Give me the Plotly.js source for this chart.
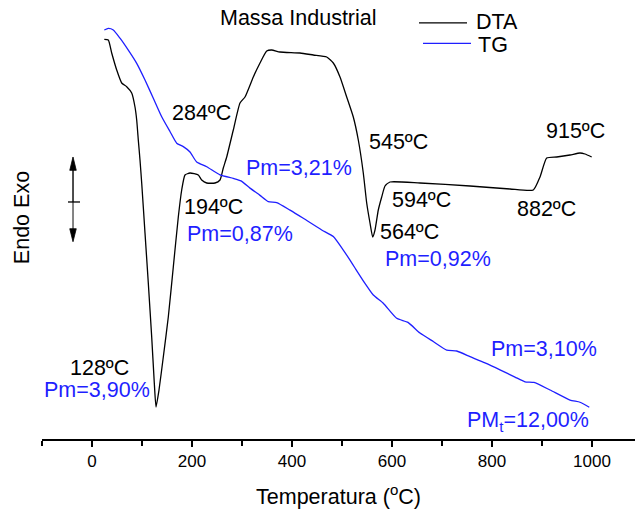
<!DOCTYPE html>
<html>
<head>
<meta charset="utf-8">
<script src="https://cdn.plot.ly/plotly-3.0.1.min.js"></script>
<style>
  html, body { margin: 0; padding: 0; background: #fff; }
  #chart { width: 635px; height: 512px; }
</style>
</head>
<body>
<div id="chart"></div>
<script>
// DTA signal (arbitrary units) against temperature (ºC)
const dtaTemp = [24.6, 32.6, 39.4, 49.4, 59.4, 69.4, 79.4, 86, 89.4, 92.6, 96, 99.4, 106, 112.6, 119.4, 124.6, 128,
  134, 142.6, 152.6, 162.6, 172.6, 179.4, 186, 196, 212.6, 219.4, 229.4, 246, 256, 262.6, 269.4, 282.6, 296, 306,
  322.6, 336, 349.4, 359.4, 376, 416, 442.6, 469.4, 482.6, 496, 509.4, 522.6, 532.6, 542.6, 549.4, 556, 561.4,
  566, 572.6, 579.4, 586, 596, 656, 756, 836, 882.6, 896, 909.4, 929.4, 956, 976, 986, 999.4];
const dtaSignal = [39.87, 39.8, 38.5, 36.8, 35.5, 35.13, 34.5, 33.1, 31.8, 29.8, 27.8, 25.5, 20.5, 15.5, 10.1, 5.5, 3.1,
  4.8, 8.1, 12.1, 17.1, 22.1, 24.8, 26.3, 26.5, 26.3, 25.8, 25.5, 25.5, 25.8, 27.0, 28.1, 30.8, 33.5, 34.1,
  36.1, 37.5, 38.7, 38.8, 38.6, 38.5, 38.3, 38.1, 37.5, 36.1, 34.1, 32.1, 29.8, 26.5, 23.5, 21.5, 20.1,
  20.8, 22.8, 24.1, 25.2, 25.6, 25.5, 25.2, 24.9, 24.8, 26.1, 28.0, 28.1, 28.3, 28.5, 28.4, 28.1];

// TG residual mass (%) against temperature (ºC)
const tgTemp = [24.6, 32.6, 42.6, 56, 72.6, 89.4, 106, 122.6, 139.4, 156, 169.4, 182.6, 196, 209.4, 229.4, 256,
  282.6, 298, 316, 336, 352.6, 369.4, 396, 422.6, 459.4, 482.6, 502.6, 516, 526, 546, 562.6, 582.6, 609.4, 632,
  656, 682.6, 709.4, 729.4, 756, 786, 816, 846, 866, 884, 916, 956, 976, 994.6];
const tgMass = [100.00, 100.05, 100.00, 99.74, 99.36, 98.94, 98.41, 97.83, 97.24, 96.77, 96.40, 96.29, 96.12, 95.80,
  95.65, 95.39, 95.28, 95.20, 94.97, 94.74, 94.54, 94.51, 94.27, 94.01, 93.64, 93.43, 93.00, 92.68, 92.43, 91.94,
  91.57, 91.31, 90.83, 90.70, 90.36, 90.09, 89.82, 89.79, 89.61, 89.41, 89.19, 88.96, 88.81, 88.79, 88.55, 88.23,
  88.16, 88.00];

// Peak temperatures marked on the DTA curve
const peakLabels = ['128ºC', '194ºC', '284ºC', '545ºC', '564ºC', '594ºC', '882ºC', '915ºC'];
// Mass loss stages from the TG curve
const lossLabels = ['Pm=3,90%', 'Pm=0,87%', 'Pm=3,21%', 'Pm=0,92%', 'Pm=3,10%', 'PM<sub>t</sub>=12,00%'];

const xTicks = [0, 200, 400, 600, 800, 1000];

const FONT = 'Liberation Sans, Arial, Helvetica, sans-serif';
const BLUE = '#1f1fff';
const TXT = 21.5;

const traces = [
  {
    x: dtaTemp, y: dtaSignal, name: 'DTA', type: 'scatter', mode: 'lines',
    line: { color: '#000', width: 1.3, shape: 'spline', smoothing: 0.5 },
    showlegend: false
  },
  {
    x: tgTemp, y: tgMass, name: 'TG', type: 'scatter', mode: 'lines', yaxis: 'y2',
    line: { color: BLUE, width: 1.3, shape: 'spline', smoothing: 0.5 },
    showlegend: false
  }
];

// label placement (temperature, DTA units)
const peakPos = [[14, 7.0], [242, 23.1], [218, 32.5], [612, 29.6], [634, 20.6], [658, 23.8], [908, 22.9], [966, 30.7]];
const lossPos = [[10, 4.8], [295, 20.4], [414, 27.0], [692, 17.9], [904, 8.9], [872, 1.7]];

const annotations = [];
peakLabels.forEach((t, i) => annotations.push({
  x: peakPos[i][0], y: peakPos[i][1], xref: 'x', yref: 'y', text: t, showarrow: false,
  xanchor: 'center', yanchor: 'middle',
  font: { family: FONT, size: TXT, color: '#000' }
}));
lossLabels.forEach((t, i) => annotations.push({
  x: lossPos[i][0], y: lossPos[i][1], xref: 'x', yref: 'y', text: t, showarrow: false,
  xanchor: 'center', yanchor: 'middle',
  font: { family: FONT, size: TXT, color: BLUE }
}));

// chart title
annotations.push({
  x: 413, y: 42.0, xref: 'x', yref: 'y', text: 'Massa Industrial', showarrow: false,
  xanchor: 'center', yanchor: 'middle',
  font: { family: FONT, size: TXT, color: '#000' }
});

// legend entries
annotations.push({
  x: 764, y: 0.949, xref: 'x', yref: 'paper', text: 'DTA', showarrow: false,
  xanchor: 'left', yanchor: 'middle',
  font: { family: FONT, size: TXT, color: '#000' }
});
annotations.push({
  x: 768, y: 0.897, xref: 'x', yref: 'paper', text: 'TG', showarrow: false,
  xanchor: 'left', yanchor: 'middle',
  font: { family: FONT, size: TXT, color: '#000' }
});

// y axis caption
annotations.push({
  x: -0.034, y: 0.505, xref: 'paper', yref: 'paper', text: 'Endo Exo', textangle: -90, showarrow: false,
  xanchor: 'center', yanchor: 'middle',
  font: { family: FONT, size: TXT, color: '#000' }
});

// endo/exo double arrow
const ax = 0.0523, hw = 0.0055;
const shapes = [
  { type: 'line', xref: 'paper', yref: 'paper', x0: ax, x1: ax, y0: 0.615, y1: 0.5399,
    line: { color: '#000', width: 1.4 } },
  { type: 'line', xref: 'paper', yref: 'paper', x0: ax, x1: ax, y0: 0.5399, y1: 0.476,
    line: { color: '#666', width: 1.6 } },
  { type: 'path', xref: 'paper', yref: 'paper',
    path: `M ${ax - hw} 0.612 L ${ax} 0.6424 L ${ax + hw} 0.612 Z`,
    fillcolor: '#000', line: { color: '#000', width: 0.8 } },
  { type: 'path', xref: 'paper', yref: 'paper',
    path: `M ${ax - hw} 0.479 L ${ax} 0.4494 L ${ax + hw} 0.479 Z`,
    fillcolor: '#000', line: { color: '#000', width: 0.8 } },
  { type: 'line', xref: 'paper', yref: 'paper', x0: 0.0438, x1: 0.0641, y0: 0.5399, y1: 0.5399,
    line: { color: '#000', width: 1.3 } },
  // legend samples
  { type: 'line', xref: 'x', yref: 'paper', x0: 654, x1: 750, y0: 0.948, y1: 0.948,
    line: { color: '#000', width: 1.3 } },
  { type: 'line', xref: 'x', yref: 'paper', x0: 662, x1: 758, y0: 0.901, y1: 0.901,
    line: { color: BLUE, width: 1.3 } }
];

const layout = {
  width: 635, height: 512,
  margin: { l: 42, r: 0, t: 0, b: 73 },
  paper_bgcolor: '#fff', plot_bgcolor: '#fff',
  showlegend: false,
  font: { family: FONT, color: '#000' },
  xaxis: {
    range: [-100, 1086], tickvals: xTicks, ticktext: xTicks.map(String),
    showline: true, linecolor: '#000', linewidth: 1.5,
    ticks: 'outside', ticklen: 6, tickwidth: 1.5, tickcolor: '#000',
    minor: { dtick: 100, tick0: 0, ticks: 'outside', ticklen: 5, tickwidth: 1.5, tickcolor: '#000' },
    showgrid: false, zeroline: false,
    tickfont: { family: FONT, size: 17, color: '#000' },
    title: { text: 'Temperatura (<sup>o</sup>C)', font: { family: FONT, size: TXT, color: '#000' }, standoff: 19 }
  },
  yaxis: {
    range: [-0.1, 43.8], visible: false, fixedrange: true
  },
  yaxis2: {
    range: [86.991, 100.954], overlaying: 'y', visible: false
  },
  annotations: annotations,
  shapes: shapes
};

Plotly.newPlot('chart', traces, layout, { displayModeBar: false, staticPlot: true });
</script>
</body>
</html>
